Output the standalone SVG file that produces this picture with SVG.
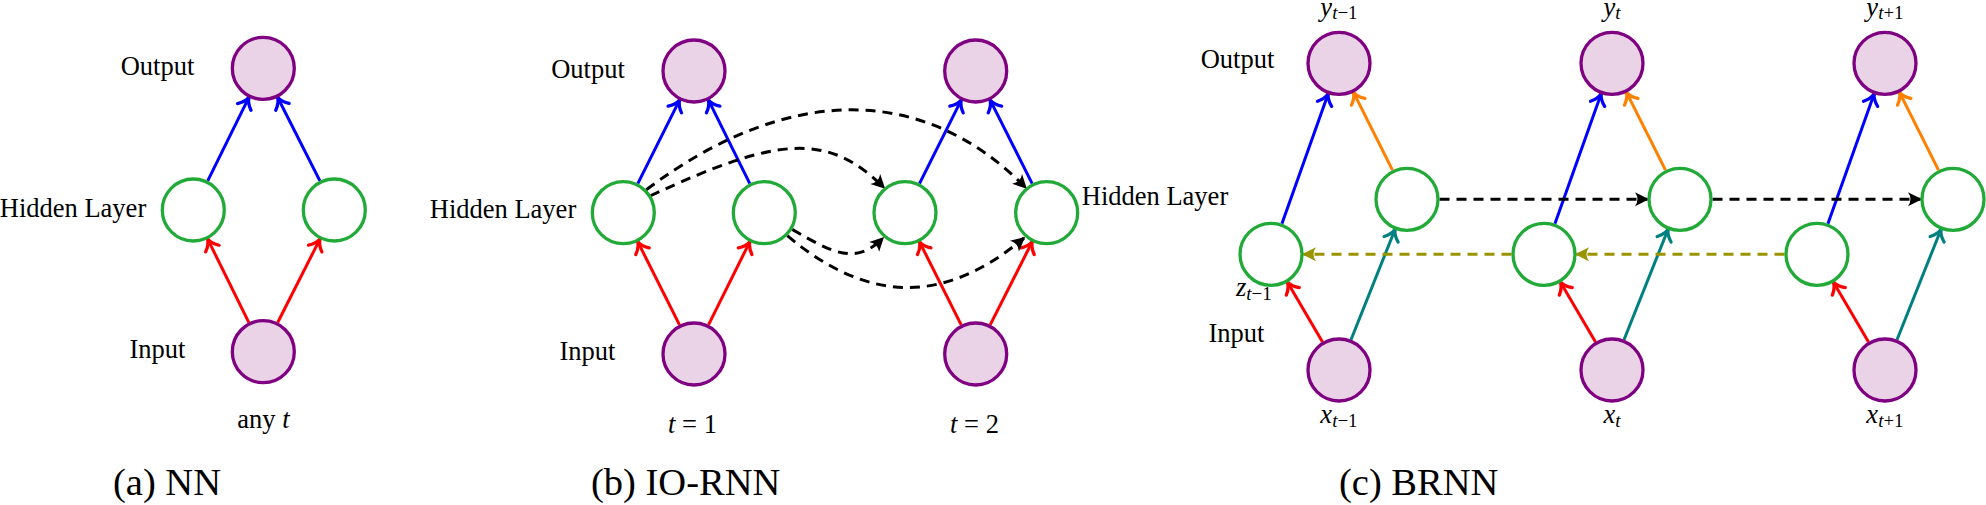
<svg xmlns="http://www.w3.org/2000/svg" width="1986" height="505" viewBox="0 0 1986 505">
<defs>
<style>
.io{fill:#EAD3E6;stroke:#7F0080;stroke-width:3.3}
.hid{fill:#FFFFFF;stroke:#22AA38;stroke-width:3.3}
.lbl{font-family:"Liberation Serif","Times New Roman",serif;font-size:26.5px;fill:#000}
.cap{font-family:"Liberation Serif","Times New Roman",serif;font-size:38.5px;fill:#000}
.it{font-style:italic}
.sub{font-size:19px}
.e{fill:none;stroke-width:3}
.blue{stroke:#0000FF;marker-end:url(#aBlue)}
.red{stroke:#FF0000;marker-end:url(#aRed)}
.orange{stroke:#FF8000;marker-end:url(#aOrange)}
.teal{stroke:#008080;marker-end:url(#aTeal)}
.blk{stroke:#000000;stroke-dasharray:10 7;marker-end:url(#aBlack)}
.olive{stroke:#9A9400;stroke-dasharray:10 7;marker-end:url(#aOlive)}
</style>
<marker id="aBlue" markerUnits="userSpaceOnUse" orient="auto" viewBox="-15 -15 30 30" refX="0" refY="0" markerWidth="30" markerHeight="30" overflow="visible"><path d="M -10.5 -7.5 C -7 -3 -2.5 -0.7 0 0 C -2.5 0.7 -7 3 -10.5 7.5" fill="none" stroke="#0000FF" stroke-width="3.3" stroke-linecap="round" stroke-linejoin="round"/></marker>
<marker id="aRed" markerUnits="userSpaceOnUse" orient="auto" viewBox="-15 -15 30 30" refX="0" refY="0" markerWidth="30" markerHeight="30" overflow="visible"><path d="M -10.5 -7.5 C -7 -3 -2.5 -0.7 0 0 C -2.5 0.7 -7 3 -10.5 7.5" fill="none" stroke="#FF0000" stroke-width="3.3" stroke-linecap="round" stroke-linejoin="round"/></marker>
<marker id="aOrange" markerUnits="userSpaceOnUse" orient="auto" viewBox="-15 -15 30 30" refX="0" refY="0" markerWidth="30" markerHeight="30" overflow="visible"><path d="M -10.5 -7.5 C -7 -3 -2.5 -0.7 0 0 C -2.5 0.7 -7 3 -10.5 7.5" fill="none" stroke="#FF8000" stroke-width="3.3" stroke-linecap="round" stroke-linejoin="round"/></marker>
<marker id="aTeal" markerUnits="userSpaceOnUse" orient="auto" viewBox="-15 -15 30 30" refX="0" refY="0" markerWidth="30" markerHeight="30" overflow="visible"><path d="M -10.5 -7.5 C -7 -3 -2.5 -0.7 0 0 C -2.5 0.7 -7 3 -10.5 7.5" fill="none" stroke="#008080" stroke-width="3.3" stroke-linecap="round" stroke-linejoin="round"/></marker>
<marker id="aBlack" markerUnits="userSpaceOnUse" orient="auto" viewBox="-15 -15 30 30" refX="0" refY="0" markerWidth="30" markerHeight="30" overflow="visible"><path d="M 1.5 0 L -12.5 -7 Q -7.5 0 -12.5 7 Z" fill="#000000"/></marker>
<marker id="aOlive" markerUnits="userSpaceOnUse" orient="auto" viewBox="-15 -15 30 30" refX="0" refY="0" markerWidth="30" markerHeight="30" overflow="visible"><path d="M 1.5 0 L -12.5 -7 Q -7.5 0 -12.5 7 Z" fill="#9A9400"/></marker>
</defs>
<rect width="1986" height="505" fill="#FFFFFF"/>

<g id="connectors">
  <!-- NN -->
  <line class="e blue" x1="207.7" y1="180.85" x2="248.9" y2="97.45"/>
  <line class="e blue" x1="319.9" y1="180.85" x2="277.7" y2="97.45"/>
  <line class="e red" x1="248.9" y1="322.55" x2="207.7" y2="239.15"/>
  <line class="e red" x1="277.7" y1="322.55" x2="319.9" y2="239.15"/>
  <!-- IO-RNN t=1 -->
  <line class="e blue" x1="637.8" y1="183.6" x2="679.5" y2="100.1"/>
  <line class="e blue" x1="749.8" y1="183.6" x2="708.5" y2="100.1"/>
  <line class="e red" x1="679.5" y1="324.9" x2="637.8" y2="241.8"/>
  <line class="e red" x1="708.5" y1="324.9" x2="749.8" y2="241.8"/>
  <!-- IO-RNN t=2 -->
  <line class="e blue" x1="919.5" y1="183.6" x2="961.2" y2="100.1"/>
  <line class="e blue" x1="1032.2" y1="183.6" x2="990.2" y2="100.1"/>
  <line class="e red" x1="961.2" y1="324.9" x2="919.5" y2="241.8"/>
  <line class="e red" x1="990.2" y1="324.9" x2="1032.2" y2="241.8"/>
  <!-- IO-RNN recurrent -->
  <path class="e blk" d="M 646.3 189.7 C 790 82, 925 85, 1025.8 187.8"/>
  <path class="e blk" d="M 650 196 C 776.9 136.8, 827.5 131.2, 884.1 187.8"/>
  <path class="e blk" d="M 792.2 229.4 C 831.2 251.9, 854.7 266.3, 883 238"/>
  <path class="e blk" d="M 787.3 235.7 C 867.7 303.2, 943.6 305.5, 1024 238"/>
  <!-- BRNN k=0 -->
  <line class="e blue" x1="1281.9" y1="223.7" x2="1328.1" y2="93.9"/>
  <line class="e orange" x1="1392.5" y1="170.2" x2="1353.5" y2="92.4"/>
  <line class="e red" x1="1322.5" y1="342" x2="1287.5" y2="282.3"/>
  <line class="e teal" x1="1351" y1="339.8" x2="1395" y2="229.5"/>
  <!-- BRNN k=1 -->
  <line class="e blue" x1="1554.9" y1="223.7" x2="1601.1" y2="93.9"/>
  <line class="e orange" x1="1665.5" y1="170.2" x2="1626.5" y2="92.4"/>
  <line class="e red" x1="1595.5" y1="342" x2="1560.5" y2="282.3"/>
  <line class="e teal" x1="1624" y1="339.8" x2="1668" y2="229.5"/>
  <!-- BRNN k=2 -->
  <line class="e blue" x1="1827.9" y1="223.7" x2="1874.1" y2="93.9"/>
  <line class="e orange" x1="1938.5" y1="170.2" x2="1899.5" y2="92.4"/>
  <line class="e red" x1="1868.5" y1="342" x2="1833.5" y2="282.3"/>
  <line class="e teal" x1="1897" y1="339.8" x2="1941" y2="229.5"/>
  <!-- BRNN recurrent -->
  <line class="e blk" x1="1439.5" y1="199.3" x2="1647.5" y2="199.3"/>
  <line class="e blk" x1="1712.5" y1="199.3" x2="1920.5" y2="199.3"/>
  <line class="e olive" x1="1784.5" y1="254.3" x2="1576.5" y2="254.3"/>
  <line class="e olive" x1="1511.5" y1="254.3" x2="1303.5" y2="254.3"/>
</g>

<!-- NN nodes -->
<g id="nn-out"><circle class="io" cx="263.3" cy="68.3" r="31"/></g>
<g id="nn-h1"><circle class="hid" cx="193.3" cy="210" r="31"/></g>
<g id="nn-h2"><circle class="hid" cx="334.3" cy="210" r="31"/></g>
<g id="nn-in"><circle class="io" cx="263.3" cy="351.7" r="31"/></g>

<!-- IO-RNN nodes -->
<g id="io-out1"><circle class="io" cx="694" cy="71" r="31"/></g>
<g id="io-h1a"><circle class="hid" cx="623.3" cy="212.7" r="31"/></g>
<g id="io-h1b"><circle class="hid" cx="764.3" cy="212.7" r="31"/></g>
<g id="io-in1"><circle class="io" cx="694" cy="354" r="31"/></g>
<g id="io-out2"><circle class="io" cx="975.7" cy="71" r="31"/></g>
<g id="io-h2a"><circle class="hid" cx="905" cy="212.7" r="31"/></g>
<g id="io-h2b"><circle class="hid" cx="1046.7" cy="212.7" r="31"/></g>
<g id="io-in2"><circle class="io" cx="975.7" cy="354" r="31"/></g>

<!-- BRNN nodes -->
<g id="br-out0"><circle class="io" cx="1339" cy="63.3" r="31"/></g>
<g id="br-f0"><circle class="hid" cx="1407" cy="199.3" r="31"/></g>
<g id="br-b0"><circle class="hid" cx="1271" cy="254.3" r="31"/></g>
<g id="br-in0"><circle class="io" cx="1339" cy="370" r="31"/></g>
<g id="br-out1"><circle class="io" cx="1612" cy="63.3" r="31"/></g>
<g id="br-f1"><circle class="hid" cx="1680" cy="199.3" r="31"/></g>
<g id="br-b1"><circle class="hid" cx="1544" cy="254.3" r="31"/></g>
<g id="br-in1"><circle class="io" cx="1612" cy="370" r="31"/></g>
<g id="br-out2"><circle class="io" cx="1885" cy="63.3" r="31"/></g>
<g id="br-f2"><circle class="hid" cx="1953" cy="199.3" r="31"/></g>
<g id="br-b2"><circle class="hid" cx="1817" cy="254.3" r="31"/></g>
<g id="br-in2"><circle class="io" cx="1885" cy="370" r="31"/></g>

<g id="labels" class="lbl">
  <!-- NN -->
  <text x="157.5" y="75" text-anchor="middle">Output</text>
  <text x="73" y="217" text-anchor="middle">Hidden Layer</text>
  <text x="157.5" y="358" text-anchor="middle">Input</text>
  <text x="263.5" y="428" text-anchor="middle">any <tspan class="it">t</tspan></text>
  <!-- IO-RNN -->
  <text x="588" y="78" text-anchor="middle">Output</text>
  <text x="503" y="218" text-anchor="middle">Hidden Layer</text>
  <text x="587.5" y="360" text-anchor="middle">Input</text>
  <text x="1155" y="205" text-anchor="middle">Hidden Layer</text>
  <text x="692.5" y="433" text-anchor="middle"><tspan class="it">t</tspan> = 1</text>
  <text x="974.5" y="433" text-anchor="middle"><tspan class="it">t</tspan> = 2</text>
  <!-- BRNN -->
  <text x="1237.5" y="68" text-anchor="middle">Output</text>
  <text x="1236.5" y="342" text-anchor="middle">Input</text>
  <text x="1339" y="16" text-anchor="middle"><tspan class="it">y</tspan><tspan class="sub" dy="3"><tspan class="it">t</tspan>−1</tspan></text>
  <text x="1612" y="16" text-anchor="middle"><tspan class="it">y</tspan><tspan class="sub it" dy="3">t</tspan></text>
  <text x="1885" y="16" text-anchor="middle"><tspan class="it">y</tspan><tspan class="sub" dy="3"><tspan class="it">t</tspan>+1</tspan></text>
  <text x="1236" y="296"><tspan class="it">z</tspan><tspan class="sub" dy="4"><tspan class="it">t</tspan>−1</tspan></text>
  <text x="1339" y="423" text-anchor="middle"><tspan class="it">x</tspan><tspan class="sub" dy="4"><tspan class="it">t</tspan>−1</tspan></text>
  <text x="1612" y="423" text-anchor="middle"><tspan class="it">x</tspan><tspan class="sub it" dy="4">t</tspan></text>
  <text x="1885" y="423" text-anchor="middle"><tspan class="it">x</tspan><tspan class="sub" dy="4"><tspan class="it">t</tspan>+1</tspan></text>
</g>

<g id="captions" class="cap">
  <text x="113" y="495">(a) NN</text>
  <text x="591" y="495">(b) IO-RNN</text>
  <text x="1339" y="495">(c) BRNN</text>
</g>
</svg>
